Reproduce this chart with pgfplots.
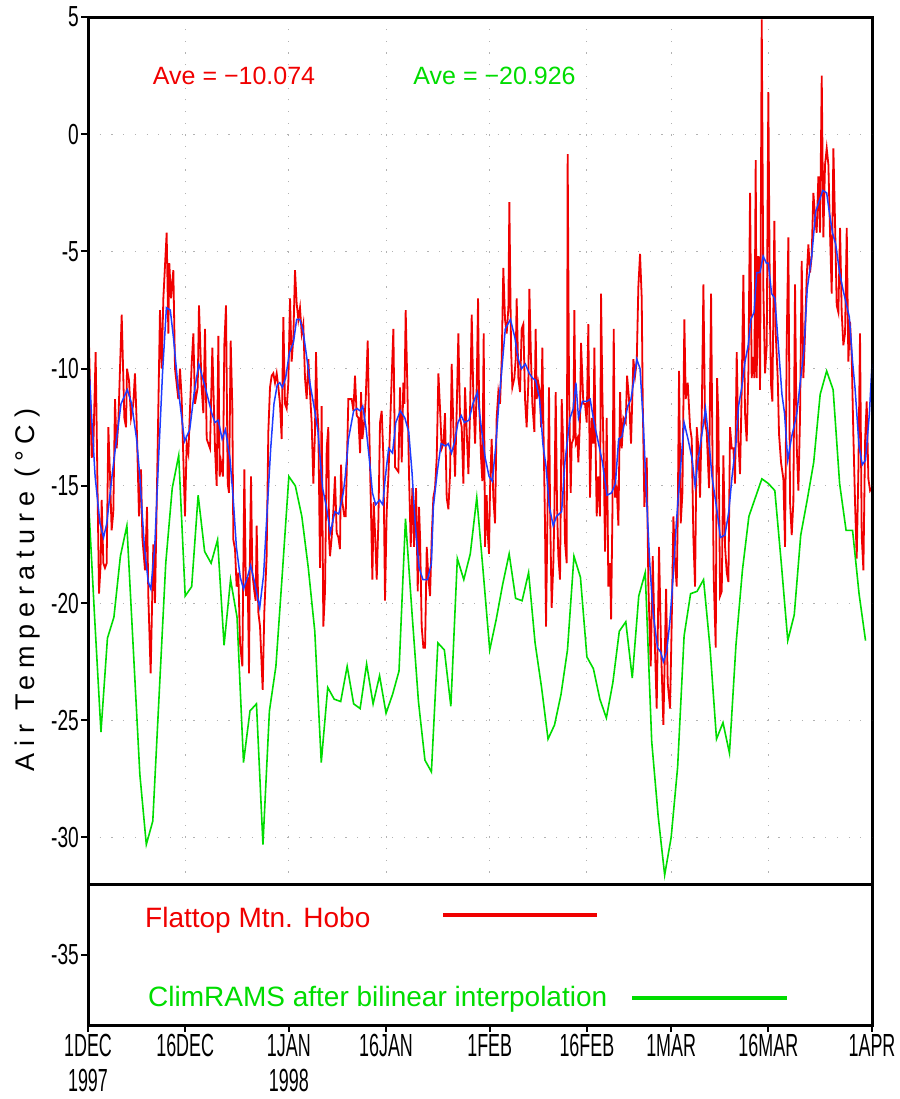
\documentclass[border=0pt]{standalone}
\usepackage{pgfplots}
\pgfplotsset{compat=1.18}
\usepackage{fontspec}
\setmainfont{Liberation Sans}
\newfontfamily\condensed{Liberation Sans}[FakeStretch=0.56]
\newfontfamily\ycondensed{Liberation Sans}[FakeStretch=0.66]
\newfontfamily\ylabfont{Liberation Sans}[LetterSpace=25]
\definecolor{gred}{RGB}{240,0,0}
\definecolor{ggreen}{RGB}{0,220,0}
\definecolor{gblue}{RGB}{30,60,255}
\begin{document}
\begin{tikzpicture}
\useasboundingbox (-88pt,-74pt) rectangle (811pt,1025pt);
\begin{axis}[
  at={(0pt,0pt)}, anchor=south west,
  scale only axis, width=784pt, height=1008pt,
  xmin=0, xmax=121, ymin=-38, ymax=5,
  axis line style={line width=3pt},
  tick align=outside, tick pos=left,
  major tick length=7pt,
  every tick/.style={black, line width=2pt},
  xtick={0,15,31,46,62,77,90,105,121},
  xticklabels={{1DEC\\1997},16DEC,{1JAN\\1998},16JAN,1FEB,16FEB,1MAR,16MAR,1APR},
  x tick label style={font=\condensed\fontsize{32}{35}\selectfont, align=center, anchor=north, inner sep=1pt, yshift=-1pt},
  ytick={-35,-30,-25,-20,-15,-10,-5,0,5},
  yticklabels={-35,-30,-25,-20,-15,-10,-5,0,5},
  y tick label style={font=\ycondensed\fontsize{29}{29}\selectfont, anchor=east, inner sep=2pt},
  ylabel={\ylabfont\fontsize{27}{27}\selectfont Air Temperature (°C)},
  ylabel style={at={(axis description cs:-0.0765,0.4315)}, anchor=center, inner sep=0pt},
  clip=true,
]
% grid (data region only)
\pgfplotsinvokeforeach{15,31,46,62,77,90,105}{
  \draw[gray!60, line width=1pt, dash pattern=on 1.2pt off 10.5pt] (axis cs:#1,-32) -- (axis cs:#1,5);
}
\pgfplotsinvokeforeach{-30,-25,-20,-15,-10,-5,0}{
  \draw[gray!60, line width=1pt, dash pattern=on 1.2pt off 10.5pt] (axis cs:0,#1) -- (axis cs:121,#1);
}
% Flattop Mtn. Hobo (red)
\addplot[gred, line width=1.8pt] coordinates {
(0.05,-7.7)(0.57,-13.8)(0.82,-13.4)(1.18,-9.3)(1.49,-15.5)(1.70,-19.6)(1.96,-18.3)(2.11,-15.6)(2.37,-18.3)(2.62,-18.5)(2.88,-18.3)
(3.14,-12.5)(3.40,-14.6)(3.65,-16.9)(3.91,-16.1)(4.17,-11.3)(4.42,-13.4)(4.68,-12.3)(5.2,-7.7)(5.61,-12.1)(5.87,-12.5)(6.02,-10.0)
(6.33,-10.5)(6.64,-12.1)(6.99,-11.5)(7.25,-10.2)(7.51,-12.3)(7.87,-16.3)(8.18,-14.3)(8.39,-17.2)(8.80,-18.6)(9.11,-15.9)(9.31,-19.7)
(9.67,-23.0)(10.08,-17.5)(10.34,-20.0)(10.75,-13.4)(11.11,-7.5)(11.37,-10.0)(11.63,-7.0)(12.14,-4.2)(12.40,-8.5)(12.55,-5.5)(12.81,-7.0)
(13.17,-5.8)(13.43,-10.0)(13.94,-11.3)(14.2,-10.0)(14.46,-11.3)(14.71,-13.8)(14.97,-16.3)(15.23,-13.2)(15.49,-13.6)(16.0,-9.8)(16.26,-8.5)
(16.51,-11.5)(16.93,-10.8)(17.13,-7.3)(17.54,-10.8)(17.8,-11.9)(18.06,-8.3)(18.32,-13.0)(18.83,-13.4)(19.19,-9.1)(19.6,-13.4)(19.86,-15.0)
(20.12,-8.6)(20.32,-14.6)(20.53,-14.0)(20.83,-14.6)(21.04,-9.0)(21.3,-7.3)(21.56,-14.9)(21.76,-15.3)(22.02,-8.8)(22.28,-11.7)(22.43,-17.3)
(22.69,-17.7)(22.94,-19.3)(23.2,-18.7)(23.46,-21.7)(23.82,-22.7)(24.13,-14.3)(24.38,-19.7)(24.64,-18.9)(24.85,-23.0)(25.0,-17.8)(25.16,-14.6)
(25.36,-18.7)(25.67,-19.5)(25.88,-19.9)(26.03,-16.7)(26.29,-20.4)(26.55,-21.0)(26.96,-23.7)(27.21,-20.4)(27.57,-18.0)(27.83,-12.7)(28.09,-10.8)
(28.35,-10.3)(28.6,-10.2)(28.86,-10.6)(29.12,-10.2)(29.38,-10.8)(29.63,-11.5)(29.89,-13.0)(30.15,-7.8)(30.4,-11.5)(30.66,-11.7)(30.92,-10.6)
(31.18,-7.0)(31.43,-9.7)(31.69,-8.7)(31.95,-5.8)(32.2,-7.2)(32.46,-7.9)(32.72,-7.4)(32.98,-8.5)(33.23,-8.1)(33.49,-10.4)(33.75,-11.3)
(34.01,-9.6)(34.26,-11.0)(34.52,-12.3)(34.78,-14.9)(35.03,-12.7)(35.19,-9.3)(35.39,-11.7)(35.55,-12.5)(35.81,-18.5)(36.06,-11.6)(36.32,-21.0)
(36.58,-19.5)(36.84,-13.4)(37.09,-12.5)(37.2,-17.2)(37.35,-18.0)(37.61,-17.2)(37.86,-16.1)(38.12,-14.6)(38.38,-17.0)(38.64,-17.2)(38.89,-17.7)
(39.05,-14.1)(39.25,-15.7)(39.56,-16.3)(39.77,-16.3)(40.18,-11.3)(40.44,-11.3)(40.7,-11.3)(40.96,-11.8)(41.21,-10.3)(41.47,-12.0)(41.73,-12.1)
(41.99,-13.6)(42.14,-11.0)(42.35,-13.0)(42.65,-12.2)(42.86,-11.3)(43.17,-8.8)(43.37,-12.1)(43.68,-16.1)(43.89,-19.0)(44.09,-15.7)(44.3,-17.0)
(44.56,-19.0)(44.81,-16.6)(45.07,-12.3)(45.33,-11.8)(45.59,-13.8)(45.84,-19.9)(46.1,-16.1)(46.36,-14.6)(46.62,-12.5)(46.87,-10.4)(47.13,-8.3)
(47.39,-14.2)(47.64,-14.3)(47.9,-14.4)(48.16,-10.8)(48.42,-14.0)(48.67,-10.6)(48.83,-11.5)(49.03,-7.5)(49.29,-10.8)(49.55,-14.6)(49.81,-17.6)
(50.06,-15.1)(50.32,-17.6)(50.63,-15.1)(50.89,-19.5)(51.09,-15.9)(51.25,-17.2)(51.5,-21.0)(51.76,-21.9)(52.02,-21.9)(52.28,-17.6)(52.53,-18.9)
(52.79,-19.7)(53.05,-17.2)(53.3,-15.5)(53.56,-15.1)(53.82,-13.8)(54.08,-10.2)(54.33,-11.7)(54.59,-13.4)(54.85,-13.2)(55.1,-11.9)(55.36,-15.5)
(55.62,-16.0)(55.88,-14.5)(56.13,-9.8)(56.39,-12.5)(56.65,-14.6)(56.91,-11.7)(57.16,-8.5)(57.42,-12.1)(57.68,-12.5)(57.93,-14.9)(58.19,-10.8)
(58.45,-12.7)(58.71,-14.5)(58.96,-11.9)(59.22,-7.7)(59.48,-11.3)(59.74,-13.2)(59.99,-10.8)(60.2,-7.0)(60.35,-11.3)(60.66,-13.8)(60.86,-14.8)
(61.07,-8.5)(61.27,-17.6)(61.53,-15.4)(61.69,-17.0)(61.89,-17.9)(62.05,-15.1)(62.3,-13.0)(62.56,-15.5)(62.82,-16.6)(63.07,-12.1)(63.33,-11.0)
(63.59,-11.5)(63.85,-9.6)(64.1,-5.7)(64.36,-7.9)(64.62,-8.5)(64.88,-7.4)(65.03,-2.9)(65.29,-9.1)(65.49,-10.8)(65.8,-10.4)(66.01,-9.6)
(66.16,-7.0)(66.42,-10.4)(66.68,-11.0)(66.93,-8.3)(67.19,-8.1)(67.45,-11.3)(67.7,-12.5)(67.96,-10.6)(68.12,-6.6)(68.37,-9.6)(68.58,-11.5)
(68.89,-12.7)(69.09,-8.3)(69.25,-11.3)(69.5,-10.6)(69.76,-11.0)(69.92,-12.5)(70.12,-9.1)(70.28,-12.3)(70.53,-16.6)(70.69,-21.0)(70.95,-15.5)
(71.15,-10.8)(71.31,-15.9)(71.56,-20.2)(71.82,-18.3)(71.97,-16.3)(72.18,-11.0)(72.39,-15.9)(72.59,-18.0)(72.85,-19.0)(73.11,-11.3)(73.36,-13.4)
(73.62,-17.4)(73.88,-18.3)(74.03,-0.85)(74.24,-10.8)(74.5,-15.3)(74.65,-13.2)(74.91,-13.0)(75.06,-7.5)(75.27,-13.2)(75.52,-13.0)(75.68,-14.0)
(75.94,-12.1)(76.09,-8.9)(76.3,-10.4)(76.45,-11.5)(76.71,-11.5)(76.97,-12.3)(77.22,-8.1)(77.48,-15.5)(77.74,-12.1)(78.0,-13.2)(78.15,-9.1)
(78.35,-13.4)(78.51,-16.3)(78.77,-14.6)(79.02,-16.3)(79.18,-6.8)(79.38,-11.0)(79.59,-13.8)(79.8,-17.8)(80.05,-12.1)(80.31,-19.3)(80.57,-18.3)
(80.73,-20.7)(80.93,-16.3)(81.14,-8.3)(81.34,-15.5)(81.6,-15.1)(81.86,-16.7)(82.12,-11.0)(82.37,-13.4)(82.63,-12.1)(82.99,-12.3)(83.2,-10.3)
(83.5,-11.3)(83.81,-13.2)(84.17,-9.6)(84.43,-10.3)(84.69,-9.7)(84.94,-6.5)(85.2,-5.1)(85.46,-7.0)(85.61,-11.3)(85.87,-15.9)(86.23,-13.8)
(86.49,-19.3)(86.85,-22.7)(87.16,-18.0)(87.41,-21.0)(87.77,-24.5)(88.13,-17.6)(88.44,-21.9)(88.8,-25.2)(89.06,-21.7)(89.22,-19.4)(89.47,-23.4)
(89.83,-24.5)(90.09,-20.8)(90.35,-16.3)(90.6,-18.3)(90.86,-19.3)(91.02,-16.3)(91.22,-10.1)(91.48,-16.6)(91.74,-15.3)(92.04,-7.9)(92.25,-11.3)
(92.56,-10.6)(92.92,-12.5)(93.18,-13.0)(93.43,-17.2)(93.69,-19.3)(93.95,-12.5)(94.21,-13.4)(94.46,-15.5)(94.72,-12.1)(94.98,-6.4)(95.23,-12.3)
(95.49,-12.7)(95.85,-15.1)(96.16,-6.8)(96.37,-13.4)(96.57,-18.9)(96.88,-21.9)(97.09,-10.4)(97.29,-12.1)(97.55,-19.7)(97.81,-19.5)(98.06,-13.7)
(98.32,-17.6)(98.58,-18.7)(98.84,-19.1)(99.09,-12.5)(99.35,-13.4)(99.61,-13.4)(99.86,-14.9)(100.12,-9.3)(100.37,-13.1)(100.63,-14.5)(100.89,-10.9)
(101.15,-6.0)(101.4,-11.9)(101.66,-13.1)(101.92,-10.2)(102.18,-2.5)(102.43,-10.4)(102.69,-9.5)(102.84,-10.4)(103.05,-1.1)(103.2,-10.4)(103.46,-5.2)
(103.72,-10.9)(103.98,4.9)(104.23,-6.6)(104.49,-10.2)(104.75,-9.0)(105.0,1.8)(105.26,-8.0)(105.42,-10.7)(105.62,-11.4)(105.93,-3.7)(106.14,-8.5)
(106.45,-10.4)(106.65,-12.8)(106.96,-14.0)(107.32,-14.7)(107.58,-17.6)(107.83,-9.0)(108.09,-4.4)(108.35,-15.7)(108.61,-17.1)(108.86,-15.7)(109.12,-6.4)
(109.38,-13.3)(109.64,-15.2)(109.89,-12.1)(110.15,-5.4)(110.41,-10.4)(110.66,-8.5)(110.92,-6.1)(111.18,-4.7)(111.44,-5.9)(111.69,-5.2)(111.95,-2.5)
(112.21,-3.5)(112.46,-4.2)(112.72,-1.8)(112.98,-4.2)(113.24,2.5)(113.49,-4.4)(113.75,-1.3)(114.01,-0.6)(114.27,-1.3)(114.52,-4.2)(114.78,-6.8)
(115.04,-0.6)(115.29,-3.7)(115.55,-7.3)(115.81,-7.6)(116.07,-4.0)(116.32,-7.6)(116.58,-9.0)(116.84,-8.5)(117.1,-4.0)(117.35,-9.7)(117.61,-8.0)
(117.87,-9.5)(118.12,-12.8)(118.38,-15.7)(118.64,-18.1)(118.9,-14.3)(119.15,-8.5)(119.41,-17.1)(119.67,-18.6)(119.93,-13.1)(120.18,-11.4)(120.44,-14.7)
(120.7,-15.2)(120.9,-15.1)
};
% smoothed (blue)
\addplot[gblue, line width=1.5pt] coordinates {
(0,-9.1)(0.57,-12.1)(1.1,-14.6)(1.85,-16.6)(2.4,-17.2)(2.9,-16.6)(3.7,-14.6)(4.4,-13.0)(5.1,-11.5)(6.07,-10.9)(6.74,-11.5)(7.5,-13.0)
(8.0,-14.6)(8.7,-17.6)(9.3,-19.1)(9.7,-19.4)(10.3,-17.6)(10.9,-13.8)(11.5,-10.2)(12.1,-7.4)(12.7,-7.5)(13.2,-8.7)(13.9,-10.8)(14.9,-13.1)
(15.7,-12.6)(16.4,-11.0)(17.1,-9.8)(18.1,-10.8)(19.1,-11.9)(19.6,-12.3)(20.1,-12.2)(20.7,-13.0)(21.2,-12.6)(21.9,-13.8)(22.4,-15.5)(22.9,-17.6)
(23.5,-18.9)(24.0,-19.4)(24.5,-19.0)(25.1,-18.4)(25.7,-19.1)(26.5,-20.2)(27.1,-18.8)(27.6,-16.3)(28.2,-13.4)(28.7,-11.5)(29.2,-10.7)(29.6,-10.6)
(30.0,-10.8)(30.5,-10.4)(31.1,-9.3)(31.7,-8.9)(32.2,-7.9)(32.7,-7.9)(33.2,-8.4)(33.8,-9.6)(34.3,-10.7)(35.0,-11.8)(35.5,-12.7)(36.2,-15.1)
(36.8,-15.9)(37.4,-17.0)(38.1,-16.1)(38.7,-16.2)(39.4,-15.3)(39.7,-14.6)(40.2,-13.0)(41.0,-11.8)(41.5,-11.7)(42.0,-11.8)(42.4,-11.6)(42.9,-12.5)
(43.4,-13.8)(43.9,-15.3)(44.4,-15.8)(45.0,-15.6)(45.5,-15.8)(45.9,-14.6)(46.4,-13.4)(47.0,-13.6)(47.5,-12.3)(48.2,-11.8)(48.9,-12.1)(49.5,-12.7)
(50.0,-14.4)(50.5,-16.6)(51.1,-18.5)(51.7,-19.0)(52.4,-19.0)(53.0,-18.3)(53.3,-15.9)(53.9,-14.4)(54.5,-13.2)(55.2,-13.3)(55.6,-13.2)(56.1,-13.6)
(56.6,-13.1)(57.1,-12.3)(57.6,-12.0)(58.1,-12.3)(58.8,-12.2)(59.4,-11.5)(60.1,-11.0)(60.6,-12.3)(61.3,-13.8)(61.9,-14.6)(62.4,-14.8)(62.9,-13.4)
(63.4,-11.5)(64.0,-9.6)(64.4,-8.3)(65.2,-7.9)(65.9,-8.7)(66.4,-9.6)(66.9,-10.0)(67.5,-9.8)(68.1,-10.2)(68.6,-10.4)(69.1,-10.5)(69.7,-11.3)
(70.2,-13.2)(70.7,-14.2)(71.2,-15.9)(71.8,-16.7)(72.3,-16.3)(73.1,-16.1)(73.6,-14.0)(74.4,-12.1)(74.9,-11.7)(75.3,-10.6)(75.7,-12.1)(76.3,-11.4)
(77.0,-11.4)(77.5,-11.3)(78.1,-12.3)(78.8,-13.2)(79.4,-14.0)(80.1,-15.4)(80.8,-15.3)(81.4,-14.9)(81.9,-13.0)(82.4,-12.9)(82.8,-12.3)(83.3,-11.6)
(83.8,-11.3)(84.3,-10.4)(84.7,-9.6)(85.2,-10.0)(85.7,-12.3)(86.2,-15.5)(86.7,-18.3)(87.2,-20.4)(87.9,-21.9)(88.4,-22.1)(88.8,-22.5)(89.3,-22.1)
(89.8,-20.8)(90.3,-18.9)(90.8,-16.6)(91.4,-14.4)(92.0,-12.3)(92.6,-13.0)(93.2,-13.8)(93.7,-15.0)(94.2,-13.8)(94.8,-12.7)(95.3,-11.7)(95.8,-13.0)
(96.3,-14.6)(97.1,-16.1)(97.6,-17.2)(98.3,-17.1)(98.9,-16.1)(99.4,-14.6)(100.0,-13.2)(100.4,-11.6)(100.9,-10.8)(101.4,-9.7)(101.9,-9.0)(102.3,-7.9)
(102.8,-7.6)(103.2,-5.9)(103.7,-5.9)(104.2,-5.2)(104.7,-5.5)(105.0,-5.5)(105.5,-6.8)(106.0,-7.0)(106.6,-9.2)(107.1,-11.1)(107.5,-11.9)(108.0,-13.9)
(108.6,-12.9)(109.1,-12.3)(109.4,-11.9)(110.0,-10.4)(110.5,-9.2)(111.0,-6.6)(111.7,-5.2)(112.3,-3.3)(112.8,-2.9)(113.4,-2.4)(114.0,-2.5)(114.4,-3.3)
(114.9,-4.2)(115.4,-4.7)(116.0,-5.9)(116.5,-6.6)(117.0,-7.2)(117.5,-7.8)(118.0,-9.7)(118.4,-10.9)(119.0,-13.3)(119.5,-14.1)(120.0,-13.9)(120.6,-11.9)
(121.0,-9.8)
};
% ClimRAMS (green), daily
\addplot[ggreen, line width=1.6pt] coordinates {
(0,-15.2)(1,-20.5)(2,-25.5)(3,-21.5)(4,-20.6)(5,-18.0)(6,-16.7)(7,-22.0)(8,-27.3)(9,-30.3)(10,-29.3)
(11,-23.8)(12,-18.3)(13,-15.1)(14,-13.7)(15,-19.7)(16,-19.3)(17,-15.4)(18,-17.8)(19,-18.3)(20,-17.3)
(21,-21.8)(22,-19.0)(23,-20.6)(24,-26.8)(25,-24.6)(26,-24.3)(27,-30.3)(28,-24.6)(29,-22.7)(30,-18.7)
(31,-14.6)(32,-15.0)(33,-16.3)(34,-18.5)(35,-21.2)(36,-26.8)(37,-23.6)(38,-24.1)(39,-24.2)(40,-22.7)
(41,-24.3)(42,-24.5)(43,-22.6)(44,-24.3)(45,-23.1)(46,-24.7)(47,-23.9)(48,-22.9)(49,-16.4)(50,-20.4)
(51,-24.2)(52,-26.7)(53,-27.2)(54,-21.7)(55,-22.0)(56,-24.4)(57,-18.1)(58,-19.0)(59,-17.9)(60,-15.5)
(61,-18.7)(62,-22.0)(63,-20.7)(64,-19.2)(65,-17.9)(66,-19.8)(67,-19.9)(68,-18.7)(69,-21.7)(70,-23.6)
(71,-25.8)(72,-25.2)(73,-23.9)(74,-22.0)(75,-18.0)(76,-18.9)(77,-22.3)(78,-22.8)(79,-24.1)(80,-24.9)
(81,-23.4)(82,-21.2)(83,-20.8)(84,-23.2)(85,-19.7)(86,-18.7)(87,-25.9)(88,-29.1)(89,-31.6)(90,-30.0)
(91,-27.0)(92,-21.4)(93,-19.6)(94,-19.5)(95,-19.0)(96,-21.9)(97,-25.8)(98,-25.1)(99,-26.4)(100,-21.8)
(101,-18.6)(102,-16.3)(103,-15.5)(104,-14.7)(105,-14.9)(106,-15.2)(107,-18.3)(108,-21.6)(109,-20.5)(110,-17.1)
(111,-15.6)(112,-14.0)(113,-11.1)(114,-10.1)(115,-10.9)(116,-14.9)(117,-16.9)(118,-16.9)(119,-19.6)(120,-21.6)
};
% legend separator and frame
\draw[line width=3pt] (axis cs:0,-32) -- (axis cs:121,-32);
\draw[line width=3pt] (rel axis cs:0,0) rectangle (rel axis cs:1,1);
% legend
\node[anchor=base west, inner sep=0pt, text=gred, font=\fontsize{28}{28}\selectfont] at (axis cs:8.8,-33.86) {Flattop Mtn. Hobo};
\draw[gred, line width=4pt] (axis cs:54.8,-33.3) -- (axis cs:78.6,-33.3);
\node[anchor=base west, inner sep=0pt, text=ggreen, font=\fontsize{28}{28}\selectfont] at (axis cs:9.26,-37.2) {ClimRAMS after bilinear interpolation};
\draw[ggreen, line width=4pt] (axis cs:84,-36.85) -- (axis cs:107.9,-36.85);
% averages
\node[anchor=base west, inner sep=0pt, text=gred, font=\fontsize{25}{25}\selectfont] at (axis cs:10.0,2.13) {Ave = −10.074};
\node[anchor=base west, inner sep=0pt, text=ggreen, font=\fontsize{25}{25}\selectfont] at (axis cs:50.2,2.13) {Ave = −20.926};
\end{axis}
\end{tikzpicture}
\end{document}
